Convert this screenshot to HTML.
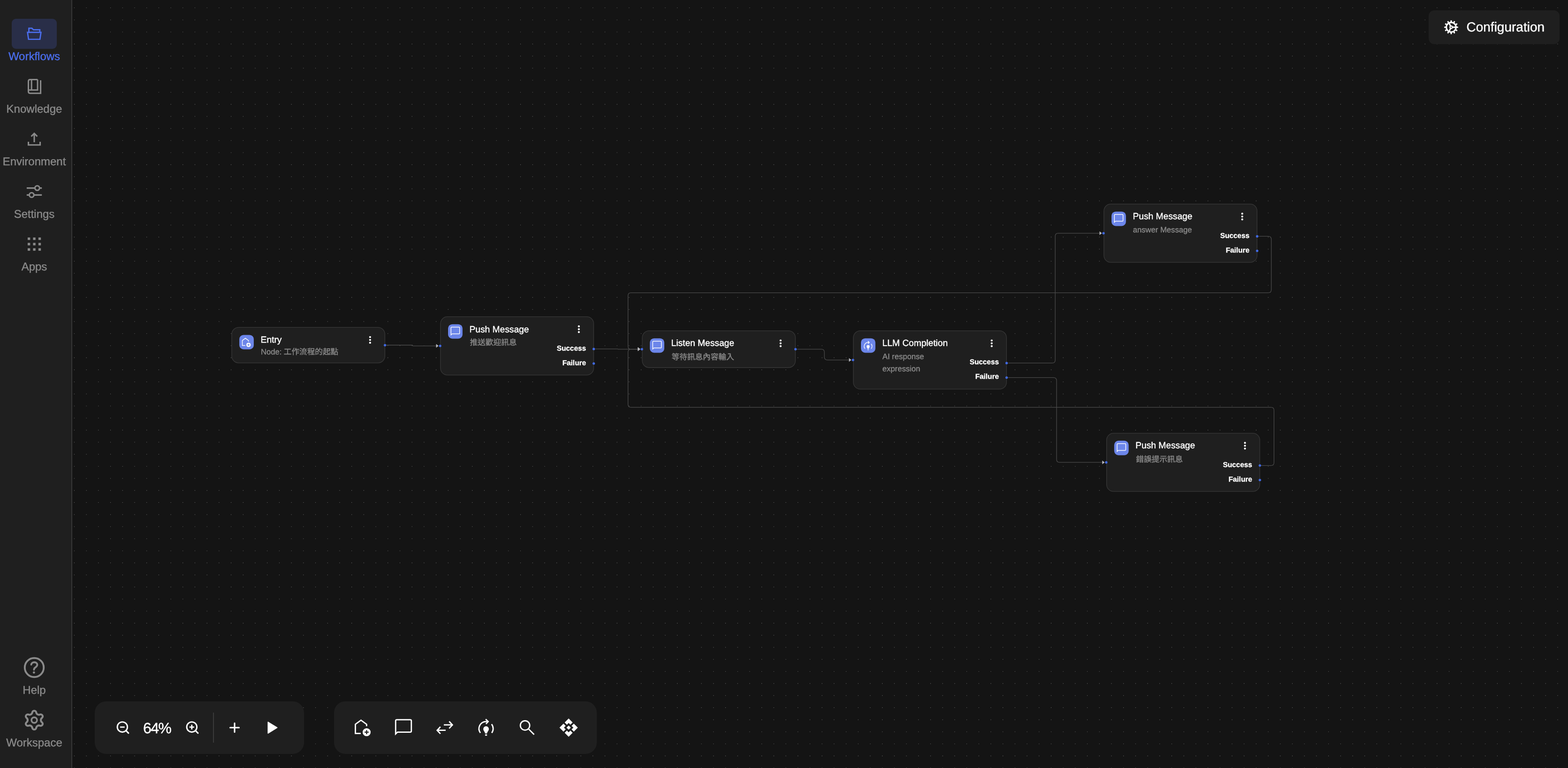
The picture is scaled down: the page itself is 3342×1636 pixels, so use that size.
<!DOCTYPE html>
<html lang="zh-Hant"><head><meta charset="utf-8"><title>Workflows</title>
<style>
html,body{margin:0;padding:0;background:#141414;width:3342px;height:1636px;}
body{font-family:"Liberation Sans","Noto Sans CJK TC",sans-serif;color:#fff;text-rendering:geometricPrecision;}
#app{position:relative;width:3342px;height:1636px;overflow:hidden;background:#141414;}
div{box-sizing:border-box;}
.ga{will-change:transform;}
.node{position:absolute;width:327.7px;background:#1f1f1f;border:1.3px solid #383838;border-radius:15.4px;}
.tile{position:absolute;left:15.4px;top:15.5px;width:30.8px;height:30.8px;border-radius:9px;background:#6c86ea;}
.hd{position:absolute;width:5.4px;height:5.4px;border-radius:50%;background:#4169e1;}
.panel{position:absolute;background:#1f1f1f;border-radius:24px;}
.kb{position:absolute;width:4.1px;height:4.1px;border-radius:50%;background:#fff;left:292.3px;}
</style></head><body><div id="app">
<svg style="position:absolute;left:154px;top:0" width="3188" height="1636"><path d="M4.440 16.620H3218M4.440 42.323H3218M4.440 68.027H3218M4.440 93.730H3218M4.440 119.434H3218M4.440 145.137H3218M4.440 170.841H3218M4.440 196.544H3218M4.440 222.248H3218M4.440 247.951H3218M4.440 273.655H3218M4.440 299.358H3218M4.440 325.062H3218M4.440 350.765H3218M4.440 376.469H3218M4.440 402.173H3218M4.440 427.876H3218M4.440 453.580H3218M4.440 479.283H3218M4.440 504.987H3218M4.440 530.690H3218M4.440 556.394H3218M4.440 582.097H3218M4.440 607.800H3218M4.440 633.504H3218M4.440 659.207H3218M4.440 684.911H3218M4.440 710.614H3218M4.440 736.318H3218M4.440 762.021H3218M4.440 787.725H3218M4.440 813.428H3218M4.440 839.132H3218M4.440 864.835H3218M4.440 890.539H3218M4.440 916.242H3218M4.440 941.946H3218M4.440 967.649H3218M4.440 993.353H3218M4.440 1019.056H3218M4.440 1044.760H3218M4.440 1070.463H3218M4.440 1096.167H3218M4.440 1121.870H3218M4.440 1147.574H3218M4.440 1173.277H3218M4.440 1198.981H3218M4.440 1224.684H3218M4.440 1250.388H3218M4.440 1276.091H3218M4.440 1301.795H3218M4.440 1327.499H3218M4.440 1353.202H3218M4.440 1378.906H3218M4.440 1404.609H3218M4.440 1430.313H3218M4.440 1456.016H3218M4.440 1481.720H3218M4.440 1507.423H3218M4.440 1533.127H3218M4.440 1558.830H3218M4.440 1584.534H3218M4.440 1610.237H3218M4.440 1635.941H3218" fill="none" stroke="#747474" stroke-width="1.3" stroke-linecap="round" stroke-dasharray="0 25.7035"/></svg>
<svg style="position:absolute;left:0;top:0" width="3342" height="1636"><path d="M823.60 735.25L878.85 735.25Q879.62 735.25 879.62 736.02L879.62 736.02Q879.62 736.80 880.40 736.80L934.15 736.80" fill="none" stroke="#4a4a4a" stroke-width="1.3"/><path d="M1268.55 743.40L1316.88 743.40Q1317.10 743.40 1317.10 743.62L1317.10 743.62Q1317.10 743.85 1317.32 743.85L1364.15 743.85" fill="none" stroke="#4a4a4a" stroke-width="1.3"/><path d="M1698.55 743.85L1750.67 743.85Q1757.08 743.85 1757.08 750.25L1757.08 760.40Q1757.08 766.80 1763.48 766.80L1814.10 766.80" fill="none" stroke="#4a4a4a" stroke-width="1.3"/><path d="M2148.50 773.45L2242.65 773.45Q2249.05 773.45 2249.05 767.05L2249.05 503.20Q2249.05 496.80 2255.45 496.80L2348.10 496.80" fill="none" stroke="#4a4a4a" stroke-width="1.3"/><path d="M2148.50 804.35L2245.55 804.35Q2251.95 804.35 2251.95 810.75L2251.95 978.50Q2251.95 984.90 2258.35 984.90L2353.90 984.90" fill="none" stroke="#4a4a4a" stroke-width="1.3"/><path d="M2682.50 503.40L2703.20 503.40Q2709.60 503.40 2709.60 509.80L2709.60 617.23Q2709.60 623.62 2703.20 623.62L1344.95 623.62Q1338.55 623.62 1338.55 630.02L1338.55 737.45Q1338.55 743.85 1344.95 743.85L1364.15 743.85" fill="none" stroke="#4a4a4a" stroke-width="1.3"/><path d="M2688.30 991.60L2709.00 991.60Q2715.40 991.60 2715.40 985.20L2715.40 874.12Q2715.40 867.72 2709.00 867.72L1344.95 867.72Q1338.55 867.72 1338.55 861.32L1338.55 750.25Q1338.55 743.85 1344.95 743.85L1364.15 743.85" fill="none" stroke="#4a4a4a" stroke-width="1.3"/><path d="M934.55 736.80L929.55 732.80V740.80Z" fill="#b9b9bd"/><path d="M1364.55 743.85L1359.55 739.85V747.85Z" fill="#b9b9bd"/><path d="M1814.50 766.80L1809.50 762.80V770.80Z" fill="#b9b9bd"/><path d="M2348.50 496.80L2343.50 492.80V500.80Z" fill="#b9b9bd"/><path d="M2354.30 984.90L2349.30 980.90V988.90Z" fill="#b9b9bd"/><path d="M1364.55 743.85L1359.55 739.85V747.85Z" fill="#b9b9bd"/><path d="M1364.55 743.85L1359.55 739.85V747.85Z" fill="#b9b9bd"/><rect x="493.94" y="697.44" width="326.42" height="75.62" rx="14.72" fill="#1f1f1f" stroke="#383838" stroke-width="1.28"/><rect x="510.10" y="713.45" width="30.8" height="30.8" rx="9" fill="#6c86ea"/><g transform="translate(524.50 729.30) scale(0.55)" opacity="0.96"><path d="M-3.05 12.3H-14.55V-7.1L-2.6 -15.9L9.35 -7.1V-3" fill="none" stroke="#fff" stroke-width="2.75"/><circle cx="9.45" cy="9.7" r="8.55" fill="#fff"/><path d="M5.05 9.7H13.85M9.45 5.3V14.1" stroke="#6c86ea" stroke-width="2.3" fill="none"/></g><circle cx="788.80" cy="718.00" r="2.1" fill="#fff"/><circle cx="788.80" cy="724.10" r="2.1" fill="#fff"/><circle cx="788.80" cy="730.20" r="2.1" fill="#fff"/><circle cx="820.60" cy="735.25" r="2.62" fill="#4169e1"/><rect x="938.89" y="674.64" width="326.42" height="124.32" rx="14.72" fill="#1f1f1f" stroke="#383838" stroke-width="1.28"/><rect x="955.05" y="690.65" width="30.8" height="30.8" rx="9" fill="#6c86ea"/><g transform="translate(970.45 706.05) scale(0.55)" opacity="0.96"><path d="M-16.75 13.5V-14.4Q-16.75 -16.9 -14.25 -16.9H14.25Q16.75 -16.9 16.75 -14.4V7Q16.75 9.5 14.25 9.5H-12.75Z" fill="none" stroke="#fff" stroke-width="2.75" stroke-linejoin="miter" stroke-miterlimit="10"/></g><circle cx="1233.75" cy="695.20" r="2.1" fill="#fff"/><circle cx="1233.75" cy="701.30" r="2.1" fill="#fff"/><circle cx="1233.75" cy="707.40" r="2.1" fill="#fff"/><circle cx="938.10" cy="736.80" r="2.62" fill="#4169e1"/><circle cx="1265.55" cy="743.40" r="2.62" fill="#4169e1"/><circle cx="1265.55" cy="774.30" r="2.62" fill="#4169e1"/><rect x="1368.89" y="704.69" width="326.42" height="78.32" rx="14.72" fill="#1f1f1f" stroke="#383838" stroke-width="1.28"/><rect x="1385.05" y="720.70" width="30.8" height="30.8" rx="9" fill="#6c86ea"/><g transform="translate(1400.45 736.10) scale(0.55)" opacity="0.96"><path d="M-16.75 13.5V-14.4Q-16.75 -16.9 -14.25 -16.9H14.25Q16.75 -16.9 16.75 -14.4V7Q16.75 9.5 14.25 9.5H-12.75Z" fill="none" stroke="#fff" stroke-width="2.75" stroke-linejoin="miter" stroke-miterlimit="10"/></g><circle cx="1663.75" cy="725.25" r="2.1" fill="#fff"/><circle cx="1663.75" cy="731.35" r="2.1" fill="#fff"/><circle cx="1663.75" cy="737.45" r="2.1" fill="#fff"/><circle cx="1368.10" cy="743.85" r="2.62" fill="#4169e1"/><circle cx="1695.55" cy="743.85" r="2.62" fill="#4169e1"/><rect x="1818.84" y="704.69" width="326.42" height="124.22" rx="14.72" fill="#1f1f1f" stroke="#383838" stroke-width="1.28"/><rect x="1835.00" y="720.70" width="30.8" height="30.8" rx="9" fill="#6c86ea"/><g transform="translate(1850.30 736.55) scale(0.55)" opacity="0.96"><path d="M-12.06 11.29A15.1 15.1 0 0 1 0.00 -12.90H4.6M11.73 -7.30A15.1 15.1 0 0 1 12.06 11.29" fill="none" stroke="#fff" stroke-width="2.75"/><path d="M-0.9 -18.1L4.5 -12.9L-0.2 -7.9" fill="none" stroke="#fff" stroke-width="2.75"/><path d="M-5.9 2.9A5.9 5.9 0 1 1 5.9 2.9C5.9 6.6 2.3 8.6 2.1 12.4H-2.1C-2.3 8.6 -5.9 6.6 -5.9 2.9Z" fill="#fff"/><rect x="-2.1" y="14.4" width="4.2" height="2.8" fill="#fff"/></g><circle cx="2113.70" cy="725.25" r="2.1" fill="#fff"/><circle cx="2113.70" cy="731.35" r="2.1" fill="#fff"/><circle cx="2113.70" cy="737.45" r="2.1" fill="#fff"/><circle cx="1818.05" cy="766.80" r="2.62" fill="#4169e1"/><circle cx="2145.50" cy="773.45" r="2.62" fill="#4169e1"/><circle cx="2145.50" cy="804.35" r="2.62" fill="#4169e1"/><rect x="2352.84" y="434.64" width="326.42" height="124.32" rx="14.72" fill="#1f1f1f" stroke="#383838" stroke-width="1.28"/><rect x="2369.00" y="450.65" width="30.8" height="30.8" rx="9" fill="#6c86ea"/><g transform="translate(2384.40 466.05) scale(0.55)" opacity="0.96"><path d="M-16.75 13.5V-14.4Q-16.75 -16.9 -14.25 -16.9H14.25Q16.75 -16.9 16.75 -14.4V7Q16.75 9.5 14.25 9.5H-12.75Z" fill="none" stroke="#fff" stroke-width="2.75" stroke-linejoin="miter" stroke-miterlimit="10"/></g><circle cx="2647.70" cy="455.20" r="2.1" fill="#fff"/><circle cx="2647.70" cy="461.30" r="2.1" fill="#fff"/><circle cx="2647.70" cy="467.40" r="2.1" fill="#fff"/><circle cx="2352.05" cy="496.80" r="2.62" fill="#4169e1"/><circle cx="2679.50" cy="503.40" r="2.62" fill="#4169e1"/><circle cx="2679.50" cy="534.30" r="2.62" fill="#4169e1"/><rect x="2358.64" y="922.84" width="326.42" height="124.12" rx="14.72" fill="#1f1f1f" stroke="#383838" stroke-width="1.28"/><rect x="2374.80" y="938.85" width="30.8" height="30.8" rx="9" fill="#6c86ea"/><g transform="translate(2390.20 954.25) scale(0.55)" opacity="0.96"><path d="M-16.75 13.5V-14.4Q-16.75 -16.9 -14.25 -16.9H14.25Q16.75 -16.9 16.75 -14.4V7Q16.75 9.5 14.25 9.5H-12.75Z" fill="none" stroke="#fff" stroke-width="2.75" stroke-linejoin="miter" stroke-miterlimit="10"/></g><circle cx="2653.50" cy="943.40" r="2.1" fill="#fff"/><circle cx="2653.50" cy="949.50" r="2.1" fill="#fff"/><circle cx="2653.50" cy="955.60" r="2.1" fill="#fff"/><circle cx="2357.85" cy="984.90" r="2.62" fill="#4169e1"/><circle cx="2685.30" cy="991.60" r="2.62" fill="#4169e1"/><circle cx="2685.30" cy="1022.50" r="2.62" fill="#4169e1"/></svg>
<div class="ga" style="position:absolute;left:0;top:0;width:3342px;height:1636px">
<div style="position:absolute;top:712px;height:25px;line-height:25px;font-size:19.2px;color:#fff;white-space:nowrap;-webkit-text-stroke:0.4px #fff;left:555.60px;">Entry</div><div style="position:absolute;top:739px;height:22px;line-height:22px;font-size:16.64px;color:#8a8a8a;white-space:nowrap;-webkit-text-stroke:0.4px #8a8a8a;left:555.90px;">Node: 工作流程的起點</div><div style="position:absolute;top:690px;height:25px;line-height:25px;font-size:19.2px;color:#fff;white-space:nowrap;-webkit-text-stroke:0.4px #fff;left:1000.55px;">Push Message</div><div style="position:absolute;top:719px;height:22px;line-height:22px;font-size:16.64px;color:#8a8a8a;white-space:nowrap;-webkit-text-stroke:0.4px #8a8a8a;left:1001.55px;">推送歡迎訊息</div><div style="position:absolute;top:733px;height:20px;line-height:20px;font-size:15.36px;color:#fff;white-space:nowrap;-webkit-text-stroke:0.3px #fff;font-weight:bold;left:849.05px;width:400px;text-align:right;">Success</div><div style="position:absolute;top:764px;height:20px;line-height:20px;font-size:15.36px;color:#fff;white-space:nowrap;-webkit-text-stroke:0.3px #fff;font-weight:bold;left:849.05px;width:400px;text-align:right;">Failure</div><div style="position:absolute;top:719px;height:25px;line-height:25px;font-size:19.2px;color:#fff;white-space:nowrap;-webkit-text-stroke:0.4px #fff;left:1430.55px;">Listen Message</div><div style="position:absolute;top:750px;height:22px;line-height:22px;font-size:16.64px;color:#8a8a8a;white-space:nowrap;-webkit-text-stroke:0.4px #8a8a8a;left:1431.55px;">等待訊息內容輸入</div><div style="position:absolute;top:719px;height:25px;line-height:25px;font-size:19.2px;color:#fff;white-space:nowrap;-webkit-text-stroke:0.4px #fff;left:1880.50px;">LLM Completion</div><div style="position:absolute;top:747px;height:22px;line-height:22px;font-size:16.64px;color:#8a8a8a;white-space:nowrap;-webkit-text-stroke:0.4px #8a8a8a;left:1880.80px;white-space:normal;width:150px;height:52px;line-height:26px;">AI response expression</div><div style="position:absolute;top:762px;height:20px;line-height:20px;font-size:15.36px;color:#fff;white-space:nowrap;-webkit-text-stroke:0.3px #fff;font-weight:bold;left:1729.00px;width:400px;text-align:right;">Success</div><div style="position:absolute;top:793px;height:20px;line-height:20px;font-size:15.36px;color:#fff;white-space:nowrap;-webkit-text-stroke:0.3px #fff;font-weight:bold;left:1729.00px;width:400px;text-align:right;">Failure</div><div style="position:absolute;top:449px;height:25px;line-height:25px;font-size:19.2px;color:#fff;white-space:nowrap;-webkit-text-stroke:0.4px #fff;left:2414.50px;">Push Message</div><div style="position:absolute;top:479px;height:22px;line-height:22px;font-size:16.64px;color:#8a8a8a;white-space:nowrap;-webkit-text-stroke:0.4px #8a8a8a;left:2414.80px;">answer Message</div><div style="position:absolute;top:493px;height:20px;line-height:20px;font-size:15.36px;color:#fff;white-space:nowrap;-webkit-text-stroke:0.3px #fff;font-weight:bold;left:2263.00px;width:400px;text-align:right;">Success</div><div style="position:absolute;top:524px;height:20px;line-height:20px;font-size:15.36px;color:#fff;white-space:nowrap;-webkit-text-stroke:0.3px #fff;font-weight:bold;left:2263.00px;width:400px;text-align:right;">Failure</div><div style="position:absolute;top:937px;height:25px;line-height:25px;font-size:19.2px;color:#fff;white-space:nowrap;-webkit-text-stroke:0.4px #fff;left:2420.30px;">Push Message</div><div style="position:absolute;top:968px;height:22px;line-height:22px;font-size:16.64px;color:#8a8a8a;white-space:nowrap;-webkit-text-stroke:0.4px #8a8a8a;left:2421.30px;">錯誤提示訊息</div><div style="position:absolute;top:981px;height:20px;line-height:20px;font-size:15.36px;color:#fff;white-space:nowrap;-webkit-text-stroke:0.3px #fff;font-weight:bold;left:2268.80px;width:400px;text-align:right;">Success</div><div style="position:absolute;top:1012px;height:20px;line-height:20px;font-size:15.36px;color:#fff;white-space:nowrap;-webkit-text-stroke:0.3px #fff;font-weight:bold;left:2268.80px;width:400px;text-align:right;">Failure</div>
<div style="position:absolute;left:0;top:0;width:154px;height:1636px;background:#1f1f1f;border-right:2px solid #363636">
<div style="position:absolute;left:25px;top:40px;width:96px;height:64px;border-radius:9px;background:#292e48"></div>
<svg style="position:absolute;left:43px;top:42px;overflow:visible" width="60" height="60" viewBox="43 42 60 60"><path d="M61.55 68.5V60.2H68.1L71.2 63.35H84.85V68.5" fill="none" stroke="#4b6eee" stroke-width="2.7"/><path d="M58.65 68.8H87.35L85.15 83.75H60.85Z" fill="none" stroke="#4b6eee" stroke-width="2.7"/></svg>
<div style="position:absolute;top:105px;height:32px;line-height:32px;font-size:24px;color:#4b6eee;white-space:nowrap;-webkit-text-stroke:0.4px #4b6eee;left:-2.00px;width:150px;text-align:center;">Workflows</div>
<svg style="position:absolute;left:43px;top:154px;overflow:visible" width="60" height="60" viewBox="43 154 60 60"><path d="M80.1 169.4H64.3Q60.5 169.4 60.5 173.2V195Q60.5 198.7 64.2 198.7H86.6V171" fill="none" stroke="#8a8a8a" stroke-width="3"/><path d="M80.1 169.4V191.7H60.5M67.2 169.4V191.7" fill="none" stroke="#8a8a8a" stroke-width="3"/></svg>
<div style="position:absolute;top:217px;height:32px;line-height:32px;font-size:24px;color:#8a8a8a;white-space:nowrap;-webkit-text-stroke:0.4px #8a8a8a;left:-2.00px;width:150px;text-align:center;">Knowledge</div>
<svg style="position:absolute;left:43px;top:266px;overflow:visible" width="60" height="60" viewBox="43 266 60 60"><path d="M73 303V283.6M66.6 290.6L73 284.2L79.4 290.6" fill="none" stroke="#8a8a8a" stroke-width="3.1"/><path d="M60.55 302.1V308.7H85.55V302.1" fill="none" stroke="#8a8a8a" stroke-width="3.1"/></svg>
<div style="position:absolute;top:329px;height:32px;line-height:32px;font-size:24px;color:#8a8a8a;white-space:nowrap;-webkit-text-stroke:0.4px #8a8a8a;left:-2.00px;width:150px;text-align:center;">Environment</div>
<svg style="position:absolute;left:43px;top:378px;overflow:visible" width="60" height="60" viewBox="43 378 60 60"><path d="M56.9 400.6H74.4M84.4 400.6H89.2M56.9 415.4H62.4M72.4 415.4H89.2" fill="none" stroke="#8a8a8a" stroke-width="3.1"/><circle cx="79.4" cy="400.6" r="4.85" fill="none" stroke="#8a8a8a" stroke-width="3.1"/><circle cx="67.4" cy="415.4" r="4.85" fill="none" stroke="#8a8a8a" stroke-width="3.1"/></svg>
<div style="position:absolute;top:441px;height:32px;line-height:32px;font-size:24px;color:#8a8a8a;white-space:nowrap;-webkit-text-stroke:0.4px #8a8a8a;left:-2.00px;width:150px;text-align:center;">Settings</div>
<svg style="position:absolute;left:43px;top:490px;overflow:visible" width="60" height="60" viewBox="43 490 60 60"><rect x="59.00" y="505.90" width="5.3" height="5.3" fill="#8a8a8a"/><rect x="59.00" y="517.35" width="5.3" height="5.3" fill="#8a8a8a"/><rect x="59.00" y="528.80" width="5.3" height="5.3" fill="#8a8a8a"/><rect x="70.45" y="505.90" width="5.3" height="5.3" fill="#8a8a8a"/><rect x="70.45" y="517.35" width="5.3" height="5.3" fill="#8a8a8a"/><rect x="70.45" y="528.80" width="5.3" height="5.3" fill="#8a8a8a"/><rect x="81.90" y="505.90" width="5.3" height="5.3" fill="#8a8a8a"/><rect x="81.90" y="517.35" width="5.3" height="5.3" fill="#8a8a8a"/><rect x="81.90" y="528.80" width="5.3" height="5.3" fill="#8a8a8a"/></svg>
<div style="position:absolute;top:553px;height:32px;line-height:32px;font-size:24px;color:#8a8a8a;white-space:nowrap;-webkit-text-stroke:0.4px #8a8a8a;left:-2.00px;width:150px;text-align:center;">Apps</div>
<svg style="position:absolute;left:43px;top:1392px;overflow:visible" width="60" height="60" viewBox="43 1392 60 60"><g transform="translate(73 1422) scale(0.11484) translate(-256 -256)" fill="none" stroke="#8a8a8a"><circle cx="256" cy="256" r="176" stroke-width="34"/><path d="M200 202.29s.84-17.5 19.57-32.57C230.68 160.77 244 158.18 256 158c10.93-.14 20.69 1.67 26.53 4.45 10 4.76 29.47 16.38 29.47 41.09 0 26-17 37.81-36.37 50.8S251 281.43 251 296" stroke-width="33" stroke-linecap="round" stroke-miterlimit="10"/><circle cx="250" cy="348" r="21" fill="#8a8a8a" stroke="none"/></g></svg>
<div style="position:absolute;top:1455px;height:32px;line-height:32px;font-size:24px;color:#8a8a8a;white-space:nowrap;-webkit-text-stroke:0.4px #8a8a8a;left:-2.00px;width:150px;text-align:center;">Help</div>
<svg style="position:absolute;left:43px;top:1504px;overflow:visible" width="60" height="60" viewBox="43 1504 60 60"><path d="M68.84 1517.55A4.20 4.20 0 0 1 77.16 1517.55A5.82 5.82 0 0 0 85.16 1522.17A4.20 4.20 0 0 1 89.33 1529.38A5.82 5.82 0 0 0 89.33 1538.62A4.20 4.20 0 0 1 85.16 1545.83A5.82 5.82 0 0 0 77.16 1550.45A4.20 4.20 0 0 1 68.84 1550.45A5.82 5.82 0 0 0 60.84 1545.83A4.20 4.20 0 0 1 56.67 1538.62A5.82 5.82 0 0 0 56.67 1529.38A4.20 4.20 0 0 1 60.84 1522.17A5.82 5.82 0 0 0 68.84 1517.55Z" fill="none" stroke="#8a8a8a" stroke-width="4.1" stroke-linejoin="round"/><circle cx="73" cy="1534" r="5.9" fill="none" stroke="#8a8a8a" stroke-width="3.6"/></svg>
<div style="position:absolute;top:1567px;height:32px;line-height:32px;font-size:24px;color:#8a8a8a;white-space:nowrap;-webkit-text-stroke:0.4px #8a8a8a;left:-2.00px;width:150px;text-align:center;">Workspace</div>
</div>
<div class="panel" style="left:202px;top:1494px;width:446px;height:112px">
<svg style="position:absolute;left:0;top:0;overflow:visible" width="446" height="112" viewBox="202 1494 446 112"><circle cx="260.8" cy="1548.7" r="10.8" fill="none" stroke="#fff" stroke-width="2.9"/><path d="M268.6 1556.5L273.8 1561.6" stroke="#fff" stroke-width="3.1" stroke-linecap="round" fill="none"/><path d="M257 1548.8H264.6" stroke="#fff" stroke-width="2.8" stroke-linecap="round" fill="none"/><circle cx="408.8" cy="1548.7" r="10.8" fill="none" stroke="#fff" stroke-width="2.9"/><path d="M416.6 1556.5L421.9 1561.7" stroke="#fff" stroke-width="3.1" stroke-linecap="round" fill="none"/><path d="M404.8 1548.8H412.8M408.8 1544.8V1552.8" stroke="#fff" stroke-width="2.8" stroke-linecap="round" fill="none"/><path d="M490.5 1550H509.5M500 1540.5V1559.5" stroke="#fff" stroke-width="3.1" stroke-linecap="round" fill="none"/><path d="M571.3 1538.2V1561.9L590.6 1550Z" fill="#fff" stroke="#fff" stroke-width="1.8" stroke-linejoin="round"/></svg>
<div style="position:absolute;top:36px;height:42px;line-height:42px;font-size:32px;color:#fff;white-space:nowrap;-webkit-text-stroke:0.4px #fff;letter-spacing:-1.7px;left:72.55px;width:120px;text-align:center;">64%</div>
<div style="position:absolute;left:252px;top:24px;width:2px;height:64px;background:#3a3a3a"></div>
</div>
<div class="panel" style="left:712px;top:1494px;width:560px;height:112px">
<svg style="position:absolute;left:30.15px;top:26.00px;overflow:visible" width="60" height="60" viewBox="-30 -30 60 60"><g transform="scale(1.0)"><path d="M-3.05 12.3H-14.55V-7.1L-2.6 -15.9L9.35 -7.1V-3" fill="none" stroke="#fff" stroke-width="2.75"/><circle cx="9.45" cy="9.7" r="8.55" fill="#fff"/><path d="M5.05 9.7H13.85M9.45 5.3V14.1" stroke="#1f1f1f" stroke-width="2.3" fill="none"/></g></svg>
<svg style="position:absolute;left:118.15px;top:26.00px;overflow:visible" width="60" height="60" viewBox="-30 -30 60 60"><g transform="scale(1.0)"><path d="M-16.75 13.5V-14.4Q-16.75 -16.9 -14.25 -16.9H14.25Q16.75 -16.9 16.75 -14.4V7Q16.75 9.5 14.25 9.5H-12.75Z" fill="none" stroke="#fff" stroke-width="2.75" stroke-linejoin="miter" stroke-miterlimit="10"/></g></svg>
<svg style="position:absolute;left:206.15px;top:26.00px;overflow:visible" width="60" height="60" viewBox="-30 -30 60 60"><g transform="scale(1.0)"><path d="M-2.05 -5.8H16.2M9.3 -13.2L16.3 -5.8L9.3 1.6M1.85 5.7H-16.2M-9.3 -1.7L-16.3 5.7L-9.3 13.1" fill="none" stroke="#fff" stroke-width="2.75" stroke-linejoin="miter"/></g></svg>
<svg style="position:absolute;left:294.15px;top:26.00px;overflow:visible" width="60" height="60" viewBox="-30 -30 60 60"><g transform="scale(1.0)"><path d="M-12.06 11.29A15.1 15.1 0 0 1 0.00 -12.90H4.6M11.73 -7.30A15.1 15.1 0 0 1 12.06 11.29" fill="none" stroke="#fff" stroke-width="2.75"/><path d="M-0.9 -18.1L4.5 -12.9L-0.2 -7.9" fill="none" stroke="#fff" stroke-width="2.75"/><path d="M-5.9 2.9A5.9 5.9 0 1 1 5.9 2.9C5.9 6.6 2.3 8.6 2.1 12.4H-2.1C-2.3 8.6 -5.9 6.6 -5.9 2.9Z" fill="#fff"/><rect x="-2.1" y="14.4" width="4.2" height="2.8" fill="#fff"/></g></svg>
<svg style="position:absolute;left:382.15px;top:26.00px;overflow:visible" width="60" height="60" viewBox="-30 -30 60 60"><g transform="scale(1.0)"><circle cx="-4.95" cy="-4.7" r="10" fill="none" stroke="#fff" stroke-width="2.75"/><path d="M2.1 2.4L14.4 14.7" stroke="#fff" stroke-width="2.75" fill="none"/></g></svg>
<svg style="position:absolute;left:470.15px;top:26.00px;overflow:visible" width="60" height="60" viewBox="-30 -30 60 60"><g transform="scale(1.0)"><path transform="rotate(45)" d="M13.80 13.80L1.80 13.80L1.80 7.10L7.10 7.10L7.10 1.80L13.80 1.80ZM13.80 -13.80L1.80 -13.80L1.80 -7.10L7.10 -7.10L7.10 -1.80L13.80 -1.80ZM-13.80 13.80L-1.80 13.80L-1.80 7.10L-7.10 7.10L-7.10 1.80L-13.80 1.80ZM-13.80 -13.80L-1.80 -13.80L-1.80 -7.10L-7.10 -7.10L-7.10 -1.80L-13.80 -1.80ZM-3.25 -3.25H3.25V3.25H-3.25Z" fill="#fff"/></g></svg>
</div>
<div class="panel" style="left:3045px;top:22px;width:279px;height:72px;border-radius:12px">
<svg style="position:absolute;left:18.00px;top:6.00px;overflow:visible" width="60" height="60" viewBox="-30 -30 60 60"><g transform="scale(1.0)"><circle cx="0" cy="0" r="10.3" fill="none" stroke="#fff" stroke-width="3"/><path d="M11.30 0.00L13.55 0.00" stroke="#fff" stroke-width="3.1" stroke-linecap="round"/><path d="M9.79 5.65L11.73 6.77" stroke="#fff" stroke-width="3.1" stroke-linecap="round"/><path d="M5.65 9.79L6.78 11.73" stroke="#fff" stroke-width="3.1" stroke-linecap="round"/><path d="M0.00 11.30L0.00 13.55" stroke="#fff" stroke-width="3.1" stroke-linecap="round"/><path d="M-5.65 9.79L-6.77 11.73" stroke="#fff" stroke-width="3.1" stroke-linecap="round"/><path d="M-9.79 5.65L-11.73 6.77" stroke="#fff" stroke-width="3.1" stroke-linecap="round"/><path d="M-11.30 0.00L-13.55 0.00" stroke="#fff" stroke-width="3.1" stroke-linecap="round"/><path d="M-9.79 -5.65L-11.73 -6.78" stroke="#fff" stroke-width="3.1" stroke-linecap="round"/><path d="M-5.65 -9.79L-6.78 -11.73" stroke="#fff" stroke-width="3.1" stroke-linecap="round"/><path d="M-0.00 -11.30L-0.00 -13.55" stroke="#fff" stroke-width="3.1" stroke-linecap="round"/><path d="M5.65 -9.79L6.78 -11.73" stroke="#fff" stroke-width="3.1" stroke-linecap="round"/><path d="M9.79 -5.65L11.73 -6.78" stroke="#fff" stroke-width="3.1" stroke-linecap="round"/><path d="M0 0L10.30 -0.00" stroke="#fff" stroke-width="3"/><path d="M0 0L-4.68 -9.18" stroke="#fff" stroke-width="3"/><path d="M0 0L-4.68 9.18" stroke="#fff" stroke-width="3"/><circle cx="0" cy="0" r="3.7" fill="#fff"/><circle cx="0" cy="0" r="1.25" fill="#111"/></g></svg>
<div style="position:absolute;top:17px;height:37px;line-height:37px;font-size:28px;color:#fff;white-space:nowrap;-webkit-text-stroke:0.4px #fff;left:80.50px;">Configuration</div>
</div>
</div>
</div></body></html>
